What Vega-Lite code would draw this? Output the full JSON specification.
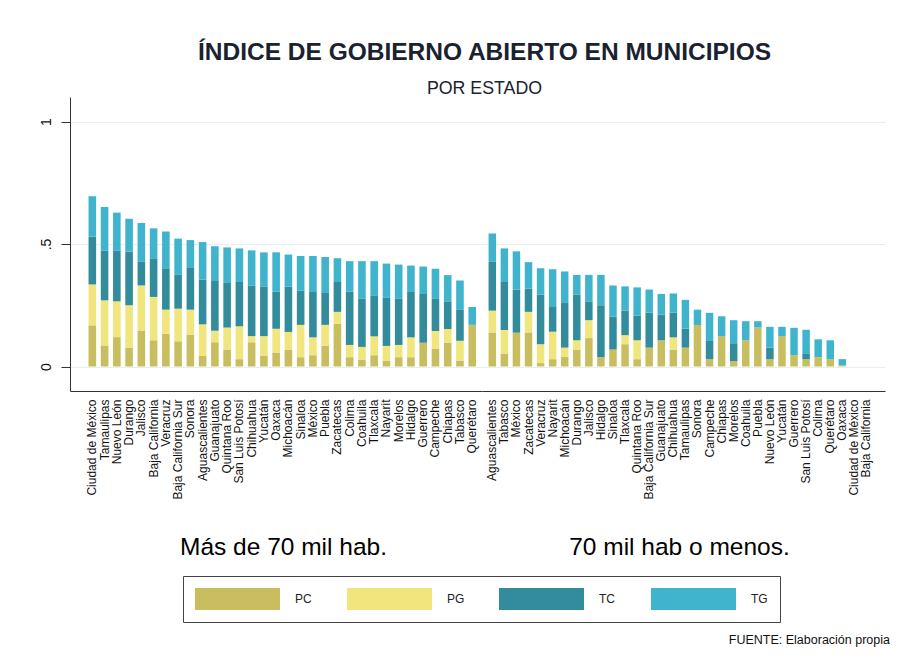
{
  "$schema": "https://vega.github.io/schema/vega-lite/v6.json",
  "background": "white",
  "padding": {"left": 39, "top": 39, "right": 5, "bottom": 5},
  "title": {
    "text": "ÍNDICE DE GOBIERNO ABIERTO EN MUNICIPIOS",
    "subtitle": "POR ESTADO",
    "anchor": "middle",
    "dx": 20,
    "fontSize": 24.5,
    "font": "Liberation Sans",
    "fontWeight": "bold",
    "color": "#1a2230",
    "subtitleFontSize": 17.8,
    "subtitleFont": "Liberation Sans",
    "subtitleColor": "#1a2230",
    "subtitlePadding": 15,
    "offset": -2
  },
  "datasets": {
    "d": [
      {"g": "A", "estado": "Ciudad de México", "PC": 0.168, "PG": 0.167, "TC": 0.195, "TG": 0.165},
      {"g": "A", "estado": "Tamaulipas", "PC": 0.086, "PG": 0.184, "TC": 0.204, "TG": 0.177},
      {"g": "A", "estado": "Nuevo León", "PC": 0.120, "PG": 0.146, "TC": 0.208, "TG": 0.154},
      {"g": "A", "estado": "Durango", "PC": 0.077, "PG": 0.173, "TC": 0.219, "TG": 0.134},
      {"g": "A", "estado": "Jalisco", "PC": 0.147, "PG": 0.184, "TC": 0.096, "TG": 0.159},
      {"g": "A", "estado": "Baja California", "PC": 0.107, "PG": 0.177, "TC": 0.155, "TG": 0.125},
      {"g": "A", "estado": "Veracruz", "PC": 0.134, "PG": 0.098, "TC": 0.169, "TG": 0.150},
      {"g": "A", "estado": "Baja California Sur", "PC": 0.103, "PG": 0.133, "TC": 0.138, "TG": 0.148},
      {"g": "A", "estado": "Sonora", "PC": 0.130, "PG": 0.102, "TC": 0.173, "TG": 0.111},
      {"g": "A", "estado": "Aguascalientes", "PC": 0.043, "PG": 0.129, "TC": 0.182, "TG": 0.154},
      {"g": "A", "estado": "Guanajuato", "PC": 0.099, "PG": 0.047, "TC": 0.203, "TG": 0.142},
      {"g": "A", "estado": "Quintana Roo", "PC": 0.069, "PG": 0.090, "TC": 0.182, "TG": 0.145},
      {"g": "A", "estado": "San Luis Potosí", "PC": 0.030, "PG": 0.134, "TC": 0.181, "TG": 0.137},
      {"g": "A", "estado": "Chihuahua", "PC": 0.099, "PG": 0.025, "TC": 0.207, "TG": 0.143},
      {"g": "A", "estado": "Yucatán", "PC": 0.043, "PG": 0.081, "TC": 0.203, "TG": 0.139},
      {"g": "A", "estado": "Oaxaca", "PC": 0.057, "PG": 0.097, "TC": 0.151, "TG": 0.161},
      {"g": "A", "estado": "Michoacán", "PC": 0.069, "PG": 0.072, "TC": 0.185, "TG": 0.131},
      {"g": "A", "estado": "Sinaloa", "PC": 0.038, "PG": 0.132, "TC": 0.139, "TG": 0.142},
      {"g": "A", "estado": "México", "PC": 0.046, "PG": 0.073, "TC": 0.185, "TG": 0.147},
      {"g": "A", "estado": "Puebla", "PC": 0.085, "PG": 0.085, "TC": 0.130, "TG": 0.147},
      {"g": "A", "estado": "Zacatecas", "PC": 0.174, "PG": 0.049, "TC": 0.122, "TG": 0.097},
      {"g": "A", "estado": "Colima", "PC": 0.038, "PG": 0.050, "TC": 0.217, "TG": 0.125},
      {"g": "A", "estado": "Coahuila", "PC": 0.028, "PG": 0.052, "TC": 0.196, "TG": 0.154},
      {"g": "A", "estado": "Tlaxcala", "PC": 0.046, "PG": 0.077, "TC": 0.165, "TG": 0.142},
      {"g": "A", "estado": "Nayarit", "PC": 0.024, "PG": 0.060, "TC": 0.196, "TG": 0.140},
      {"g": "A", "estado": "Morelos", "PC": 0.038, "PG": 0.050, "TC": 0.188, "TG": 0.140},
      {"g": "A", "estado": "Hidalgo", "PC": 0.038, "PG": 0.081, "TC": 0.185, "TG": 0.108},
      {"g": "A", "estado": "Guerrero", "PC": 0.097, "PG": 0.0, "TC": 0.199, "TG": 0.112},
      {"g": "A", "estado": "Campeche", "PC": 0.073, "PG": 0.072, "TC": 0.131, "TG": 0.123},
      {"g": "A", "estado": "Chiapas", "PC": 0.097, "PG": 0.056, "TC": 0.113, "TG": 0.107},
      {"g": "A", "estado": "Tabasco", "PC": 0.024, "PG": 0.081, "TC": 0.126, "TG": 0.120},
      {"g": "A", "estado": "Querétaro", "PC": 0.170, "PG": 0.0, "TC": 0.0, "TG": 0.073},
      {"g": "B", "estado": "Aguascalientes", "PC": 0.139, "PG": 0.089, "TC": 0.199, "TG": 0.116},
      {"g": "B", "estado": "Tabasco", "PC": 0.051, "PG": 0.098, "TC": 0.196, "TG": 0.137},
      {"g": "B", "estado": "México", "PC": 0.138, "PG": 0.0, "TC": 0.176, "TG": 0.156},
      {"g": "B", "estado": "Zacatecas", "PC": 0.139, "PG": 0.084, "TC": 0.095, "TG": 0.108},
      {"g": "B", "estado": "Veracruz", "PC": 0.014, "PG": 0.077, "TC": 0.202, "TG": 0.108},
      {"g": "B", "estado": "Nayarit", "PC": 0.030, "PG": 0.112, "TC": 0.104, "TG": 0.151},
      {"g": "B", "estado": "Michoacán", "PC": 0.039, "PG": 0.038, "TC": 0.185, "TG": 0.126},
      {"g": "B", "estado": "Durango", "PC": 0.069, "PG": 0.038, "TC": 0.186, "TG": 0.081},
      {"g": "B", "estado": "Jalisco", "PC": 0.116, "PG": 0.073, "TC": 0.077, "TG": 0.108},
      {"g": "B", "estado": "Hidalgo", "PC": 0.038, "PG": 0.0, "TC": 0.212, "TG": 0.124},
      {"g": "B", "estado": "Sinaloa", "PC": 0.069, "PG": 0.0, "TC": 0.134, "TG": 0.128},
      {"g": "B", "estado": "Tlaxcala", "PC": 0.091, "PG": 0.037, "TC": 0.100, "TG": 0.099},
      {"g": "B", "estado": "Quintana Roo", "PC": 0.030, "PG": 0.077, "TC": 0.100, "TG": 0.116},
      {"g": "B", "estado": "Baja California Sur", "PC": 0.077, "PG": 0.0, "TC": 0.143, "TG": 0.094},
      {"g": "B", "estado": "Guanajuato", "PC": 0.107, "PG": 0.0, "TC": 0.105, "TG": 0.084},
      {"g": "B", "estado": "Chihuahua", "PC": 0.069, "PG": 0.050, "TC": 0.101, "TG": 0.078},
      {"g": "B", "estado": "Tamaulipas", "PC": 0.077, "PG": 0.0, "TC": 0.078, "TG": 0.117},
      {"g": "B", "estado": "Sonora", "PC": 0.169, "PG": 0.0, "TC": 0.0, "TG": 0.063},
      {"g": "B", "estado": "Campeche", "PC": 0.030, "PG": 0.0, "TC": 0.074, "TG": 0.115},
      {"g": "B", "estado": "Chiapas", "PC": 0.124, "PG": 0.0, "TC": 0.0, "TG": 0.081},
      {"g": "B", "estado": "Morelos", "PC": 0.022, "PG": 0.0, "TC": 0.073, "TG": 0.094},
      {"g": "B", "estado": "Coahuila", "PC": 0.107, "PG": 0.0, "TC": 0.0, "TG": 0.078},
      {"g": "B", "estado": "Puebla", "PC": 0.159, "PG": 0.0, "TC": 0.0, "TG": 0.026},
      {"g": "B", "estado": "Nuevo León", "PC": 0.030, "PG": 0.0, "TC": 0.047, "TG": 0.085},
      {"g": "B", "estado": "Yucatán", "PC": 0.124, "PG": 0.0, "TC": 0.0, "TG": 0.038},
      {"g": "B", "estado": "Guerrero", "PC": 0.046, "PG": 0.0, "TC": 0.0, "TG": 0.112},
      {"g": "B", "estado": "San Luis Potosí", "PC": 0.030, "PG": 0.0, "TC": 0.024, "TG": 0.096},
      {"g": "B", "estado": "Colima", "PC": 0.038, "PG": 0.0, "TC": 0.0, "TG": 0.073},
      {"g": "B", "estado": "Querétaro", "PC": 0.030, "PG": 0.0, "TC": 0.0, "TG": 0.077},
      {"g": "B", "estado": "Oaxaca", "PC": 0.005, "PG": 0.0, "TC": 0.0, "TG": 0.025},
      {"g": "B", "estado": "Ciudad de México", "PC": 0.0, "PG": 0.0, "TC": 0.0, "TG": 0.0},
      {"g": "B", "estado": "Baja California", "PC": 0.0, "PG": 0.0, "TC": 0.0, "TG": 0.0}
    ]
  },
  "spacing": 0,
  "bounds": "flush",
  "resolve": {"scale": {"color": "shared"}},
  "hconcat": [
    {
      "width": 412,
      "height": 294,
      "data": {"name": "d"},
      "transform": [
        {"filter": "datum.g == 'A'"},
        {"fold": ["PC", "PG", "TC", "TG"], "as": ["comp", "v"]}
      ],
      "mark": {"type": "bar"},
      "encoding": {
        "x": {
          "field": "estado", "type": "nominal", "sort": null,
          "scale": {"paddingInner": 0.38, "paddingOuter": 1.257, "align": 0.756, "round": false},
          "axis": {
            "title": "Más de 70 mil hab.", "titleFontSize": 24.5, "titleFontWeight": "normal", "titleColor": "#000", "titlePadding": 36, "titleX": 213,
            "labelAngle": -90, "labelAlign": "right", "labelBaseline": "middle", "labelFontSize": 12, "labelPadding": 8,
            "labelColor": "#111", "ticks": false, "domainColor": "#333", "domainWidth": 1, "grid": false
          }
        },
        "y": {
          "field": "v", "type": "quantitative", "stack": "zero",
          "scale": {"domain": [-0.1, 1.1], "nice": false, "zero": false},
          "axis": {
            "title": null, "values": [0, 0.5, 1],
            "labelExpr": "datum.value == 0 ? '0' : datum.value == 1 ? '1' : '.5'",
            "labelAngle": -90, "labelAlign": "center", "labelBaseline": "bottom", "labelFontSize": 14, "labelPadding": 8,
            "labelColor": "#111", "tickSize": 9, "tickColor": "#333", "domainColor": "#333",
            "grid": true, "gridColor": "#e6eef1", "gridWidth": 1.2
          }
        },
        "color": {
          "field": "comp", "type": "nominal",
          "scale": {"domain": ["PC", "PG", "TC", "TG"], "range": ["#c8be5f", "#f0e67d", "#328c9b", "#41b4cd"]}
        },
        "order": {"field": "comp", "type": "nominal", "sort": "ascending"}
      }
    },
    {
      "width": 403,
      "height": 294,
      "data": {"name": "d"},
      "transform": [
        {"filter": "datum.g == 'B'"},
        {"fold": ["PC", "PG", "TC", "TG"], "as": ["comp", "v"]}
      ],
      "title": {"text": "FUENTE: Elaboración propia", "orient": "bottom", "anchor": "end", "frame": "group", "fontSize": 12.5, "fontWeight": "normal", "color": "#111", "offset": 75, "dx": 5},
      "mark": {"type": "bar"},
      "encoding": {
        "x": {
          "field": "estado", "type": "nominal", "sort": null,
          "scale": {"paddingInner": 0.38, "paddingOuter": 0.885, "align": 0.307, "round": false},
          "axis": {
            "title": "70 mil hab o menos.", "titleFontSize": 24.5, "titleFontWeight": "normal", "titleColor": "#000", "titlePadding": 36, "titleX": 197,
            "labelAngle": -90, "labelAlign": "right", "labelBaseline": "middle", "labelFontSize": 12, "labelPadding": 8,
            "labelColor": "#111", "ticks": false, "domainColor": "#333", "domainWidth": 1, "grid": false
          }
        },
        "y": {
          "field": "v", "type": "quantitative", "stack": "zero",
          "scale": {"domain": [-0.1, 1.1], "nice": false, "zero": false},
          "axis": {
            "title": null, "values": [0, 0.5, 1], "labels": false, "ticks": false, "domain": false,
            "grid": true, "gridColor": "#e6eef1", "gridWidth": 1.2
          }
        },
        "color": {
          "field": "comp", "type": "nominal",
          "scale": {"domain": ["PC", "PG", "TC", "TG"], "range": ["#c8be5f", "#f0e67d", "#328c9b", "#41b4cd"]}
        },
        "order": {"field": "comp", "type": "nominal", "sort": "ascending"}
      }
    }
  ],
  "config": {
    "font": "Liberation Sans",
    "view": {"stroke": null},
    "axis": {"labelFont": "Liberation Sans", "titleFont": "Liberation Sans"},
    "legend": {
      "orient": "none", "legendX": 113, "legendY": 479,
      "direction": "horizontal", "columns": 4, "title": null,
      "symbolType": "M-1,-1H6.73V1H-1Z", "symbolSize": 484, "symbolStrokeWidth": 0, "symbolOpacity": 1,
      "labelFontSize": 12, "labelColor": "#222", "labelOffset": 78, "columnPadding": 34,
      "padding": 12, "strokeColor": "#444", "gridAlign": "all"
    }
  }
}
